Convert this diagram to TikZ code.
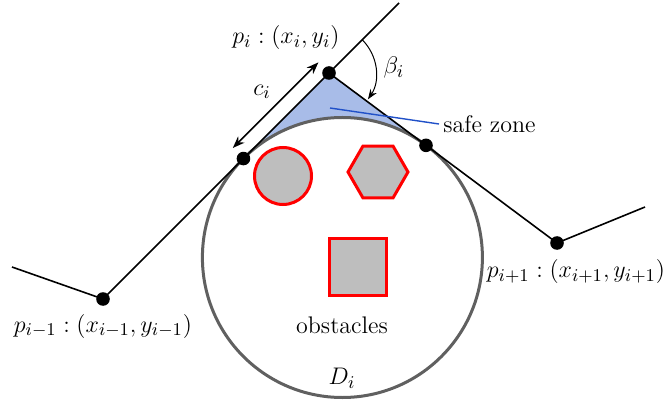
\documentclass[tikz,border=0pt]{standalone}
\usepackage{amsmath}
\usepackage{xcolor}
\usetikzlibrary{arrows.meta, positioning, shapes.geometric, calc}
\definecolor{szblue}{HTML}{A8BCE8}
\definecolor{szline}{HTML}{2050C8}
\definecolor{dgray}{HTML}{606060}
\definecolor{obsgray}{HTML}{BEBEBE}
\definecolor{obsred}{HTML}{FF0000}

\begin{document}
\begin{tikzpicture}[
  x=0.5pt, y=0.5pt,
  every node/.style={font=\large},
  waypoint/.style={circle, fill=black, inner sep=0pt, minimum size=6.8pt},
  pathline/.style={line width=0.8pt, black},
  obstacle/.style={draw=obsred, fill=obsgray, line width=1.5pt, inner sep=0pt},
  ptlabel/.style={font=\fontsize{12.2}{15}\selectfont},
]
\useasboundingbox (0,0) rectangle (663,407);

% Waypoints
\coordinate (pi) at (329,334);
\coordinate (pm) at (103,108);
\coordinate (pp) at (557,164);
\coordinate (pa) at (399,404);
\coordinate (pb) at (12,140);
\coordinate (pc) at (645,200);
\coordinate (dc) at (342.4,149.5);

% Tangent points
\coordinate (tl) at ($(pi)!60.5pt!(pm)$);
\coordinate (tr) at ($(pi)!60.5pt!(pp)$);

% Safe zone and disk
\fill[szblue] (tl) -- (pi) -- (tr) -- cycle;
\draw[dgray, line width=1.5pt, fill=white] (dc) circle[radius=70pt];

% Path
\draw[pathline] (pb) -- (pm) -- (pa);
\draw[pathline] (pi) -- (pp) -- (pc);

\node[waypoint] (npi) at (pi) {};
\node[waypoint] (npm) at (pm) {};
\node[waypoint] (npp) at (pp) {};
\node[waypoint] (ntl) at (tl) {};
\node[waypoint] (ntr) at (tr) {};

% Obstacles
\node[obstacle, circle, minimum size=28.5pt] (obs1) at (283,231) {};
\node[obstacle, regular polygon, regular polygon sides=6, minimum size=30pt] (obs2) at (378,235) {};
\node[obstacle, rectangle, minimum size=28.5pt] (obs3) at (358,140) {};

% Length c_i
\coordinate (ca) at ($(tl)!7.5pt!90:(pi)$);
\coordinate (cb) at ($(pi)!7.5pt!-90:(tl)$);
\draw[{Stealth[length=6pt]}-{Stealth[length=6pt]}, line width=0.8pt] (ca) -- (cb);
\node[ptlabel] (ci) at (262,315) {$c_i$};

% Angle beta_i
\draw[-{Stealth[length=5pt]}, line width=0.5pt] ($(pi)+(45:23.5pt)$) arc[start angle=45, end angle=-34, radius=23.5pt];
\node[ptlabel] (beta) at (394,339) {$\beta_i$};

% Labels
\node[ptlabel] (lpi) at (286,369) {$p_i : (x_i, y_i)$};
\node[ptlabel] (lpm) at (103,81) {$p_{i-1} : (x_{i-1}, y_{i-1})$};
\node[ptlabel] (lpp) at (576,135) {$p_{i+1} : (x_{i+1}, y_{i+1})$};
\node (obst) at (342,82) {obstacles};
\node[ptlabel] (di) at (342,29) {$D_i$};

% Safe zone label
\coordinate (sz) at (330,299);
\node[anchor=west, inner sep=2pt] (szl) at (439,283) {safe zone};
\draw[szline, line width=0.7pt] (sz) -- (szl.west);

\end{tikzpicture}
\end{document}
